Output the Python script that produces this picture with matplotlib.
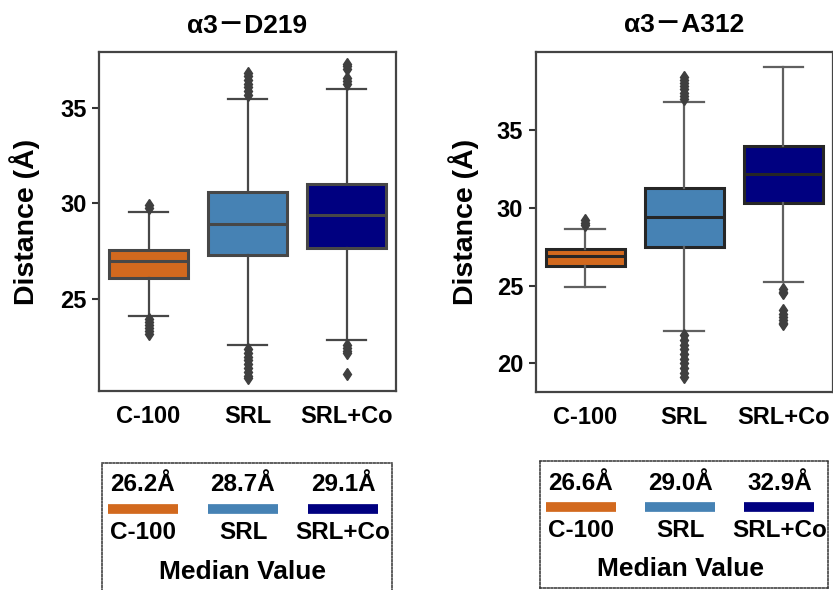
import matplotlib
matplotlib.use('Agg')
import matplotlib.pyplot as plt

plt.rcParams['font.family'] = ['Liberation Sans', 'Noto Sans CJK SC', 'DejaVu Sans']
plt.rcParams['font.weight'] = 'bold'
plt.rcParams['axes.titleweight'] = 'bold'
plt.rcParams['axes.labelweight'] = 'bold'

# ---------------- data ----------------
groups = ['C-100', 'SRL', 'SRL+Co']
colors = ['#D2691E', '#4682B4', '#000080']
titles = ['α3－D219', 'α3－A312']
ylabel = 'Distance (Å)'

# panel 1: α3-D219
d219_q1 = [26.08, 27.28, 27.68]
d219_med = [26.99, 28.90, 29.41]
d219_q3 = [27.58, 30.57, 31.00]
d219_whislo = [24.10, 22.58, 22.84]
d219_whishi = [29.55, 35.47, 35.96]
d219_fliers = [
    [29.75, 29.9, 23.95, 23.8, 23.65, 23.5, 23.35, 23.2],
    [35.65, 35.85, 36.05, 36.25, 36.45, 36.65, 36.8,
     22.4, 22.2, 22.0, 21.8, 21.6, 21.4, 21.2, 21.0, 20.9],
    [36.25, 36.4, 36.55, 37.0, 37.15, 37.25,
     22.6, 22.45, 22.3, 22.2, 21.1],
]
d219_ticks = [25, 30, 35]
d219_ylim = (20.2, 37.9)
d219_median_text = ['26.2Å', '28.7Å', '29.1Å']

# panel 2: α3-A312
a312_q1 = [26.27, 27.50, 30.32]
a312_med = [26.90, 29.42, 32.18]
a312_q3 = [27.35, 31.25, 33.96]
a312_whislo = [24.88, 22.06, 25.20]
a312_whishi = [28.63, 36.77, 39.02]
a312_fliers = [
    [28.9, 29.05, 29.2],
    [37.0, 37.2, 37.4, 37.6, 37.8, 38.0, 38.2, 38.4,
     21.8, 21.5, 21.2, 20.9, 20.6, 20.3, 20.0, 19.7, 19.4, 19.1],
    [24.75, 24.6, 24.5, 23.4, 23.2, 23.0, 22.8, 22.6, 22.5],
]
a312_ticks = [20, 25, 30, 35]
a312_ylim = (18.16, 40.03)
a312_median_text = ['26.6Å', '29.0Å', '32.9Å']

legend_title = 'Median Value'

# ---------------- figure ----------------
fig = plt.figure(figsize=(8.33, 5.90), dpi=100)

panels = [
    dict(rect=[0.1189, 0.3373, 0.3565, 0.5746], q1=d219_q1, med=d219_med, q3=d219_q3,
         lo=d219_whislo, hi=d219_whishi, fl=d219_fliers, ticks=d219_ticks,
         ylim=d219_ylim, title=titles[0], edge='#474747', whis='#474747',
         lab_x=-0.200, leg_rect=[0.1224, -0.017, 0.3482, 0.2323],
         leg_ylim=(137, 0), leg_text=d219_median_text),
    dict(rect=[0.6431, 0.3356, 0.3568, 0.5768], q1=a312_q1, med=a312_med, q3=a312_q3,
         lo=a312_whislo, hi=a312_whishi, fl=a312_fliers, ticks=a312_ticks,
         ylim=a312_ylim, title=titles[1], edge='#262626', whis='#606060',
         lab_x=-0.192, leg_rect=[0.6483, 0.0034, 0.3457, 0.2152],
         leg_ylim=(127, 0), leg_text=a312_median_text),
]

for p in panels:
    ax = fig.add_axes(p['rect'])
    stats = []
    for i, g in enumerate(groups):
        stats.append(dict(label=g, q1=p['q1'][i], med=p['med'][i], q3=p['q3'][i],
                          whislo=p['lo'][i], whishi=p['hi'][i], fliers=p['fl'][i]))
    bp = ax.bxp(stats, positions=range(len(groups)), widths=0.8, patch_artist=True,
                showfliers=True,
                boxprops=dict(edgecolor=p['edge'], linewidth=2.2),
                medianprops=dict(color=p['edge'], linewidth=2.2),
                whiskerprops=dict(color=p['whis'], linewidth=1.6),
                capprops=dict(color=p['whis'], linewidth=1.6),
                flierprops=dict(marker='d', markersize=6.5, markerfacecolor='#3f3f3f',
                                markeredgecolor='#3f3f3f', linestyle='none'))
    for patch, c in zip(bp['boxes'], colors):
        patch.set_facecolor(c)
    ax.set_xlim(-0.5, len(groups) - 0.5)
    ax.set_ylim(*p['ylim'])
    ax.set_yticks(p['ticks'])
    ax.set_xticks(range(len(groups)))
    ax.set_xticklabels(groups)
    ax.tick_params(axis='x', length=0, pad=10, labelsize=17)
    ax.tick_params(axis='y', length=5, width=1.5, pad=4, labelsize=17, color='#333333')
    for s in ax.spines.values():
        s.set_color('#444444')
        s.set_linewidth(1.6)
    ax.set_title(p['title'], fontsize=19, pad=14)
    ax.set_ylabel(ylabel, fontsize=20.5)
    ax.yaxis.set_label_coords(p['lab_x'], 0.5)

    # legend box
    lg = fig.add_axes(p['leg_rect'])
    lg.set_xlim(-0.41, 2.49)
    lg.set_ylim(*p['leg_ylim'])
    lg.set_xticks([])
    lg.set_yticks([])
    for s in lg.spines.values():
        s.set_linestyle((0, (1.2, 1.2)))
        s.set_linewidth(1.1)
        s.set_color('#333333')
    for i, g in enumerate(groups):
        lg.text(i, 22, p['leg_text'][i], ha='center', va='center', fontsize=17.5)
        lg.plot([i - 0.353, i + 0.353], [46, 46], color=colors[i], linewidth=7,
                solid_capstyle='butt')
        lg.text(i, 69, g, ha='center', va='center', fontsize=17.5)
    lg.text(1, 108.5, legend_title, ha='center', va='center', fontsize=19)

fig.savefig('out.png', dpi=100)
